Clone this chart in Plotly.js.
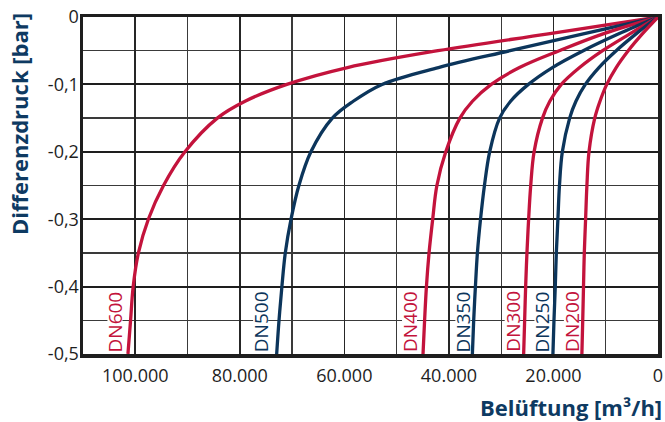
<!DOCTYPE html>
<html>
<head>
<meta charset="utf-8">
<script src="https://cdn.plot.ly/plotly-3.0.1.min.js"></script>
<style>html,body{margin:0;padding:0;background:#fff;}#chart{width:665px;height:422px;}</style>
</head>
<body>
<div id="chart"></div>
<script>
// Differential pressure levels [bar]
const pressure = [0, -0.025, -0.05, -0.075, -0.1, -0.125, -0.15, -0.2, -0.25, -0.3, -0.35, -0.4, -0.45, -0.5];
// Airflow [m3/h] per nominal size, read at each pressure level
const flowDN600 = [0, 21000, 42100, 59400, 71000, 79000, 84300, 90500, 94600, 97500, 99400, 100400, 100900, 101400];
const flowDN500 = [0, 14300, 28300, 42000, 52800, 58300, 62300, 66400, 68700, 70200, 71300, 71950, 72500, 72950];
const flowDN400 = [0, 10500, 18900, 26500, 31900, 35500, 37900, 40600, 42300, 43100, 43800, 44300, 44650, 44950];
const flowDN350 = [0, 7500, 14300, 20200, 24800, 28200, 30300, 32200, 33200, 33950, 34550, 34930, 35260, 35510];
const flowDN300 = [0, 5400, 10600, 15000, 18500, 20700, 22100, 23700, 24350, 24750, 25070, 25320, 25510, 25700];
const flowDN250 = [0, 4200, 8000, 11300, 13900, 15700, 16900, 18300, 18850, 19150, 19450, 19650, 19900, 20100];
const flowDN200 = [0, 3000, 5700, 8000, 9800, 11100, 12100, 13200, 13600, 13850, 14100, 14250, 14400, 14560];
const seriesNames = ['DN600', 'DN500', 'DN400', 'DN350', 'DN300', 'DN250', 'DN200'];
const xTickVals = [100000, 80000, 60000, 40000, 20000, 0];
const xTickText = ['100.000', '80.000', '60.000', '40.000', '20.000', '0'];
const yTickVals = [0, -0.1, -0.2, -0.3, -0.4, -0.5];
const yTickText = ['0', '-0,1', '-0,2', '-0,3', '-0,4', '-0,5'];
const xTitle = 'Belüftung [m³/h]';
const yTitle = 'Differenzdruck [bar]';

const RED = '#c3133c';
const NAVY = '#0c355b';
const TITLE = '#0e3a62';
const FONT = '"Open Sans", "Noto Sans", sans-serif';

const flows = [flowDN600, flowDN500, flowDN400, flowDN350, flowDN300, flowDN250, flowDN200];
const colors = [RED, NAVY, RED, NAVY, RED, NAVY, RED];
// label centre offset (px) left of each curve's bottom end
const labelShift = [-13, -16, -13.5, -9.5, -11.5, -11, -10.5];

const traces = flows.map((f, i) => ({
  type: 'scatter', mode: 'lines', x: f, y: pressure, name: seriesNames[i],
  line: {color: colors[i], width: 3.3, shape: 'spline', smoothing: 1},
  hoverinfo: 'skip', showlegend: false
}));

const annotations = [];
const shapes = [];
flows.forEach((f, i) => {
  const xEnd = f[f.length - 1];
  const yEnd = pressure[pressure.length - 1];
  annotations.push({
    x: xEnd, y: yEnd, xref: 'x', yref: 'y', text: seriesNames[i], showarrow: false,
    textangle: -90, xanchor: 'center', yanchor: 'bottom', xshift: labelShift[i], yshift: 1,
    font: {family: FONT, size: 19, color: colors[i]}, borderpad: 0
  });
  shapes.push({
    type: 'rect', layer: 'between', xref: 'x', yref: 'y',
    xsizemode: 'pixel', ysizemode: 'pixel', xanchor: xEnd, yanchor: yEnd,
    x0: labelShift[i] - 7.5, x1: labelShift[i] + 7.5, y0: 4, y1: 65,
    fillcolor: '#ffffff', line: {width: 0}
  });
});
annotations.push({
  xref: 'paper', yref: 'paper', x: 0, y: 1, xanchor: 'center', yanchor: 'top',
  xshift: -64, yshift: 6, textangle: -90, showarrow: false, text: yTitle,
  font: {family: FONT, size: 22, color: TITLE, weight: 'bold'}
});
annotations.push({
  xref: 'paper', yref: 'paper', x: 1, y: 0, xanchor: 'right', yanchor: 'top',
  xshift: 6, yshift: -36, showarrow: false, text: xTitle,
  font: {family: FONT, size: 22, color: TITLE, weight: 'bold'}
});

const layout = {
  width: 665, height: 422,
  margin: {l: 83, r: 7, t: 17, b: 68, pad: 0},
  paper_bgcolor: '#ffffff', plot_bgcolor: '#ffffff',
  font: {family: FONT, size: 18, color: '#1e1e1e'},
  showlegend: false,
  xaxis: {
    range: [110000, 0], autorange: false,
    tickmode: 'array', tickvals: xTickVals, ticktext: xTickText,
    ticks: '', ticklabelstandoff: 3,
    showgrid: true, gridcolor: '#262626', gridwidth: 1.6,
    minor: {tickmode: 'linear', tick0: 0, dtick: 10000, showgrid: true, gridcolor: '#3a3a3a', gridwidth: 1.3},
    zeroline: false, showline: true, mirror: true, linecolor: '#1e1e1e', linewidth: 3.5,
    tickfont: {family: FONT, size: 18, color: '#1e1e1e'}
  },
  yaxis: {
    range: [-0.5, 0], autorange: false,
    tickmode: 'array', tickvals: yTickVals, ticktext: yTickText,
    ticks: '', ticklabelstandoff: -3,
    showgrid: true, gridcolor: '#1e1e1e', gridwidth: 2,
    minor: {tickmode: 'linear', tick0: 0, dtick: 0.05, showgrid: true, gridcolor: '#3a3a3a', gridwidth: 1.3},
    zeroline: false, showline: true, mirror: true, linecolor: '#1e1e1e', linewidth: 3.5,
    tickfont: {family: FONT, size: 18, color: '#1e1e1e'}
  },
  annotations: annotations,
  shapes: shapes
};

Plotly.newPlot('chart', traces, layout, {staticPlot: true, displayModeBar: false});
</script>
</body>
</html>
